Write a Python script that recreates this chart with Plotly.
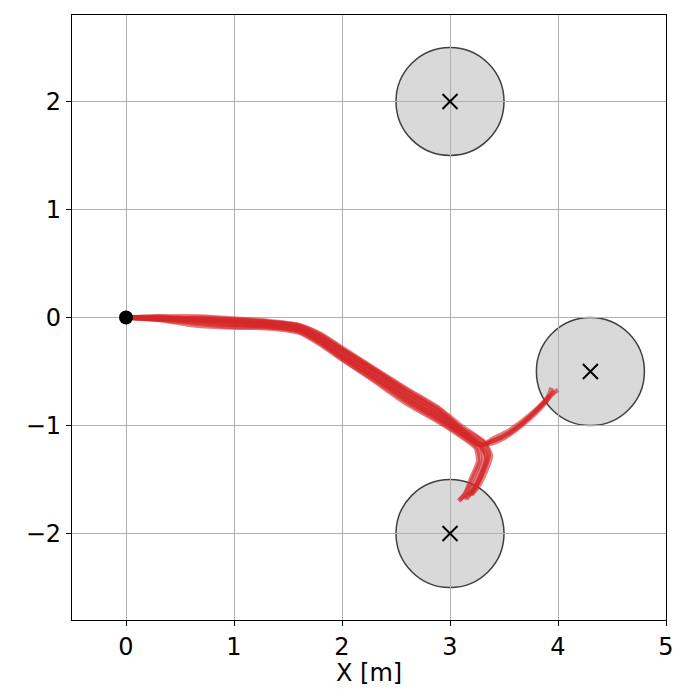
import plotly.graph_objects as go

# obstacle centres and radius [m]
obs_x = [3.0, 4.3, 3.0]
obs_y = [2.0, -0.5, -2.0]
obs_r = [0.5, 0.5, 0.5]

start_x = [0.0]
start_y = [0.0]

traj_x = [
    [0, 0.3, 0.6, 1.0, 1.3, 1.6, 1.8, 2.0, 2.3, 2.6, 2.9, 3.1, 3.28, 3.34, 3.29, 3.21, 3.15],
    [0, 0.3, 0.6, 1.0, 1.3, 1.6, 1.8, 2.0, 2.3, 2.6, 2.9, 3.1, 3.25, 3.28, 3.22, 3.15, 3.09],
    [0, 0.3, 0.7, 1.0, 1.3, 1.6, 1.8, 2.0, 2.3, 2.6, 2.9, 3.1, 3.31, 3.38, 3.33, 3.26, 3.20],
    [0, 0.3, 0.6, 0.9, 1.3, 1.6, 1.8, 2.0, 2.3, 2.6, 2.9, 3.1, 3.24, 3.26, 3.20, 3.14, 3.08],
    [0, 0.3, 0.6, 1.0, 1.3, 1.6, 1.8, 2.0, 2.3, 2.6, 2.9, 3.1, 3.32, 3.36, 3.31, 3.23, 3.17],
    [0, 0.3, 0.6, 1.0, 1.3, 1.6, 1.8, 2.0, 2.3, 2.6, 2.9, 3.1, 3.28, 3.31, 3.26, 3.19, 3.13],
    [0, 0.3, 0.6, 1.0, 1.3, 1.6, 1.8, 2.0, 2.3, 2.6, 2.9, 3.1, 3.27, 3.34, 3.30, 3.24, 3.19],
    [0, 0.3, 0.6, 1.0, 1.3, 1.6, 1.8, 2.0, 2.3, 2.6, 2.9, 3.1, 3.27, 3.38, 3.52, 3.66, 3.80, 3.92, 3.97],
    [0, 0.3, 0.6, 1.0, 1.3, 1.6, 1.8, 2.0, 2.3, 2.6, 2.9, 3.1, 3.28, 3.40, 3.54, 3.68, 3.81, 3.91, 3.94],
    [0, 0.3, 0.7, 1.0, 1.3, 1.6, 1.8, 2.0, 2.3, 2.6, 2.9, 3.1, 3.26, 3.37, 3.51, 3.65, 3.79, 3.89, 3.92],
    [0, 0.3, 0.6, 1.0, 1.3, 1.6, 1.8, 2.0, 2.3, 2.6, 2.9, 3.1, 3.29, 3.40, 3.54, 3.68, 3.83, 3.94, 4.00],
]
traj_y = [
    [0, -0.01, -0.02, -0.04, -0.06, -0.10, -0.20, -0.33, -0.52, -0.72, -0.90, -1.05, -1.18, -1.30, -1.45, -1.60, -1.68],
    [0, -0.02, -0.05, -0.09, -0.10, -0.14, -0.25, -0.39, -0.58, -0.78, -0.96, -1.09, -1.20, -1.32, -1.47, -1.62, -1.69],
    [0, 0.01, 0.01, -0.01, -0.03, -0.07, -0.15, -0.28, -0.47, -0.66, -0.84, -1.00, -1.15, -1.28, -1.43, -1.57, -1.64],
    [0, -0.02, -0.07, -0.09, -0.09, -0.13, -0.24, -0.38, -0.59, -0.80, -0.97, -1.10, -1.21, -1.33, -1.48, -1.63, -1.70],
    [0, 0.00, -0.01, -0.03, -0.04, -0.07, -0.16, -0.29, -0.48, -0.67, -0.85, -1.02, -1.16, -1.27, -1.42, -1.58, -1.65],
    [0, -0.01, -0.03, -0.06, -0.08, -0.12, -0.22, -0.36, -0.55, -0.76, -0.93, -1.07, -1.18, -1.31, -1.46, -1.61, -1.68],
    [0, 0.01, -0.01, -0.02, -0.04, -0.08, -0.18, -0.30, -0.49, -0.69, -0.87, -1.03, -1.17, -1.29, -1.43, -1.57, -1.64],
    [0, -0.01, -0.02, -0.04, -0.06, -0.10, -0.20, -0.33, -0.52, -0.72, -0.90, -1.05, -1.18, -1.15, -1.09, -0.99, -0.86, -0.74, -0.68],
    [0, -0.01, -0.04, -0.07, -0.08, -0.12, -0.23, -0.37, -0.56, -0.76, -0.94, -1.07, -1.18, -1.14, -1.07, -0.97, -0.85, -0.73, -0.65],
    [0, -0.02, 0.00, -0.02, -0.04, -0.08, -0.17, -0.30, -0.49, -0.69, -0.87, -1.03, -1.17, -1.17, -1.11, -1.01, -0.89, -0.78, -0.72],
    [0, 0.00, -0.02, -0.05, -0.06, -0.10, -0.21, -0.35, -0.54, -0.74, -0.92, -1.06, -1.18, -1.12, -1.05, -0.95, -0.82, -0.71, -0.67],
]

x_ticks = [0, 1, 2, 3, 4, 5]
y_ticks = [-2, -1, 0, 1, 2]

fig = go.Figure()

for cx, cy, r in zip(obs_x, obs_y, obs_r):
    fig.add_shape(type="circle", xref="x", yref="y",
                  x0=cx - r, y0=cy - r, x1=cx + r, y1=cy + r,
                  fillcolor="#d9d9d9", line=dict(color="#404040", width=1.5),
                  layer="below")

for tx, ty in zip(traj_x, traj_y):
    fig.add_trace(go.Scatter(x=tx, y=ty, mode="lines",
                             line=dict(color="rgba(214,39,40,0.6)", width=4.5, shape="spline", smoothing=0.6),
                             hoverinfo="skip", showlegend=False))

fig.add_trace(go.Scatter(x=obs_x, y=obs_y, mode="markers",
                         marker=dict(symbol="x-thin", size=15, line=dict(color="black", width=2)),
                         showlegend=False))
fig.add_trace(go.Scatter(x=start_x, y=start_y, mode="markers",
                         marker=dict(color="black", size=14), showlegend=False))

axis_style = dict(showgrid=True, gridcolor="#b0b0b0", gridwidth=1,
                  showline=True, linecolor="black", linewidth=1.2, mirror=True,
                  ticks="outside", ticklen=5, tickcolor="black", automargin=False,
                  tickfont=dict(size=24, color="black"), zeroline=False)

fig.update_xaxes(range=[-0.5, 5], tickvals=x_ticks, **axis_style)
fig.update_yaxes(range=[-2.8, 2.8], tickvals=y_ticks,
                 ticktext=[str(v).replace("-", "\u2212") for v in y_ticks],
                 **axis_style)

# x axis title placed as an annotation to match the reference spacing
fig.add_annotation(text="X [m]", xref="paper", yref="paper", x=0.5, y=0,
                   yanchor="middle", yshift=-53, showarrow=False,
                   font=dict(size=24, color="black"))

fig.update_layout(width=700, height=700,
                  margin=dict(l=64, r=42, t=7, b=88),
                  plot_bgcolor="white", paper_bgcolor="white",
                  font=dict(family="DejaVu Sans"))

fig.write_html("out.html")
